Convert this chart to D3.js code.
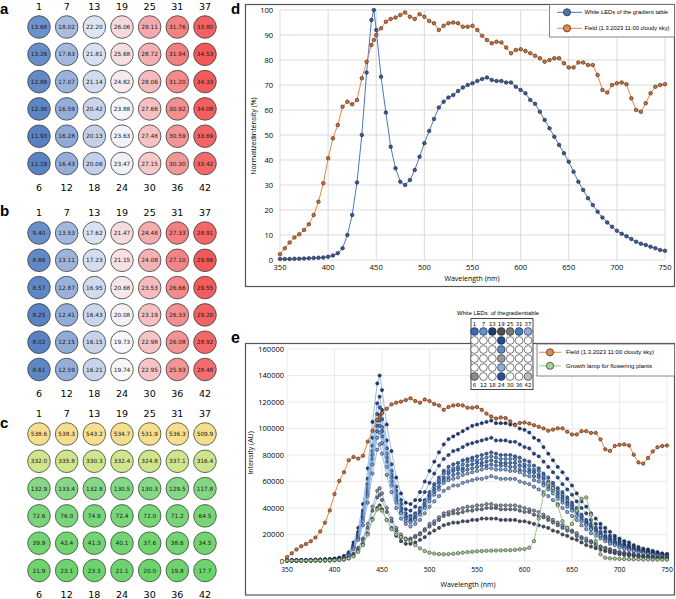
<!DOCTYPE html>
<html><head><meta charset="utf-8">
<script src="https://cdn.jsdelivr.net/npm/d3@7"></script>
<style>body{margin:0;background:#fff}svg{display:block}</style>
</head><body>
<script>
// ---------------- DATA ----------------
const colTop = [1, 7, 13, 19, 25, 31, 37];
const colBottom = [6, 12, 18, 24, 30, 36, 42];

const panelA = [
  [13.68, 18.02, 22.20, 26.06, 29.11, 31.76, 33.80],
  [13.26, 17.63, 21.81, 25.68, 28.72, 31.94, 34.53],
  [12.88, 17.07, 21.14, 24.82, 28.06, 31.20, 34.33],
  [12.30, 16.59, 20.42, 23.88, 27.66, 30.92, 34.08],
  [11.93, 16.28, 20.13, 23.63, 27.48, 30.59, 33.69],
  [12.19, 16.43, 20.06, 23.47, 27.15, 30.30, 33.42]
];
const panelB = [
  [9.40, 13.53, 17.62, 21.47, 24.48, 27.33, 28.91],
  [8.86, 13.11, 17.23, 21.15, 24.08, 27.10, 29.86],
  [8.57, 12.87, 16.95, 20.68, 23.53, 26.66, 29.55],
  [8.25, 12.41, 16.43, 20.08, 23.19, 26.33, 29.20],
  [8.02, 12.15, 16.15, 19.73, 22.98, 26.08, 28.92],
  [8.61, 12.59, 16.21, 19.74, 22.95, 25.93, 28.48]
];
const panelC = [
  [538.6, 538.3, 543.2, 534.7, 531.9, 536.3, 509.9],
  [332.0, 335.8, 330.3, 332.4, 324.8, 337.1, 316.4],
  [132.9, 133.4, 132.8, 130.5, 130.3, 129.5, 117.8],
  [72.6, 76.0, 74.9, 72.4, 72.0, 71.2, 64.5],
  [39.9, 42.4, 41.3, 40.1, 37.6, 38.6, 34.5],
  [21.9, 23.1, 23.3, 21.1, 20.0, 19.8, 17.7]
];

const wavelengths = [350,355,360,365,370,375,380,385,390,395,400,405,410,415,420,425,430,435,440,445,447.5,450,455,460,465,470,475,480,485,490,495,500,505,510,515,520,525,530,535,540,545,550,555,560,565,570,575,580,585,590,595,600,605,610,615,620,625,630,635,640,645,650,655,660,665,670,675,680,685,690,695,700,705,710,715,720,725,730,735,740,745,750];

// panel d (normalized, %)
const ledNormalized = [0.4,0.4,0.4,0.5,0.5,0.6,0.7,0.8,0.9,1.0, 1.3,1.8,2.7,4.7,10,18,31,50,75,96, 100,92,73.3,59,45.3,36.7,31.3,30,32,36, 41.3,46.7,51.6,56.4,61,63.3,65,66,67.6,69, 70,70.7,71.6,72.4,73,72,71.6,71.6,71,71, 69.3,68,66.7,64,62.5,59.3,56,52.7,49.3,46, 42.7,39.3,35.3,31.3,28,24.7,22,19.3,17,15, 13.3,11.7,10.5,9.5,8.4,7.3,6.5,6,5.3,4.7, 4,3.7];
const fieldNormalized = [2.3,4.7,7,9,10.3,12,14.3,18,23.3,30.7, 40.7,48.7,54,61.3,63.3,62.3,64,72.7,79.3,86, 88,90,92.7,95.3,96.4,97,98,99,97.3,96.4, 98.3,97.3,95.6,94.7,92,93.7,94.7,95,94.7,93.3, 93.3,93.7,92,89.7,88,86.7,87.3,87,85,82.7, 84,84.3,83.6,82.7,81.7,80.7,79.3,80,80.7,80.7, 78.7,77,77,79,79,78,78,74,68,67, 70,70.7,71,70.3,64.7,60,59.3,62.7,66.7,69.3, 70,70.3];

// panel e (intensity, thousands of AU)
const fieldIntensity = [2.9,5.8,8.7,11.2,12.8,14.9,17.7,22.3,28.9,38.1, 50.5,60.4,67,76,78.5,77.3,79.4,90.1,98.3,106.6, 109.1,111.6,114.9,118.2,119.5,120.3,121.5,122.8,120.7,119.5, 121.9,120.7,118.5,117.4,114.1,116.2,117.4,117.8,117.4,115.7, 115.7,116.2,114.1,111.2,109.1,107.5,108.3,107.9,105.4,102.5, 104.2,104.5,103.7,102.5,101.3,100.1,98.3,99.2,100.1,100.1, 97.6,95.5,95.5,98,98,96.7,96.7,91.8,84.3,83.1, 86.8,87.7,88,87.2,80.2,74.4,73.5,77.7,82.7,85.9, 86.8,87.2];
const growthLamp = [0.3,0.3,0.3,0.3,0.3,0.4,0.4,0.4,0.5,0.5, 0.6,0.8,1.2,2,3.5,7,12,20,31,39, 40.5,38,31,24,20,18,16.5,15,12,9.5, 7.5,6.3,5.6,5.2,5.1,5.2,5.5,5.9,6.3,6.7, 7,7.3,7.5,7.7,7.8,7.9,8,8.1,8.2,8.4, 8.8,9,10,15,32,50,58.5,55,42,30, 25,28,38,47,48,35,15,5,2.5,2, 1.8,1.6,1.5,1.4,1.3,1.2,1.1,1.1,1,1, 1,1];

const led13 = [0.6,0.6,0.6,0.7,0.7,0.8,1.0,1.1,1.3,1.4, 1.8,2.5,3.8,6.6,14,25,43,70,105,134, 140,129,103,83,63,51,44,43,46,52, 60,68,75,82,88,92,94,96,98,100, 102,103,104,105,106,104,104,104,103,103, 100,99,97,93,91,86,81,76,71,67, 62,57,51,45,41,36,32,28,25,22, 19,17,15,14,12,10.6,9.4,8.7,7.7,6.8, 5.8,5.4];
const led20 = [0.5,0.5,0.5,0.6,0.6,0.7,0.9,1.0,1.1,1.2, 1.6,2.2,3.3,5.8,12,22,38,62,93,119, 124,114,91,73,56,46,39,38,41,46, 52,59,66,72,77,80,83,84,86,88, 89,90,91,92,93,91,91,91,90,90, 88,86,85,81,79,75,71,67,63,58, 54,50,45,40,36,31,28,25,22,19, 17,15,13,12,10.7,9.3,8.3,7.6,6.7,6, 5.1,4.7];
const led1 = [0.5,0.5,0.5,0.6,0.6,0.7,0.8,0.9,1.0,1.2, 1.5,2.1,3.1,5.5,12,21,36,58,87,111, 116,107,85,68,53,43,36,34,36,40, 46,52,58,63,68,71,73,74,76,77, 78,79,80,81,82,81,80,80,80,79, 78,76,75,72,70,66,63,59,55,52, 48,44,40,35,31,28,25,22,19,17, 15,13,12,10.6,9.4,8.2,7.3,6.7,5.9,5.3, 4.5,4.1];
const led7 = [0.4,0.4,0.4,0.6,0.6,0.7,0.8,0.9,1.0,1.1, 1.4,2.0,3.0,5.2,11,20,34,55,83,106, 110,101,81,65,50,40,34,33,35,39, 45,50,56,61,66,68,70,71,73,75, 76,76,77,78,79,78,77,77,77,77, 75,73,72,69,68,64,60,57,53,50, 46,42,38,34,30,27,24,21,18,16, 14,13,11,10.3,9.1,7.9,7,6.5,5.7,5.1, 4.3,4];
const led31 = [0.4,0.4,0.4,0.5,0.5,0.6,0.7,0.8,1.0,1.1, 1.4,1.9,2.9,5.0,11,19,33,53,80,102, 106,98,78,63,48,39,33,31,33,37, 43,49,54,59,63,66,68,69,70,72, 73,74,74,75,76,75,74,74,74,74, 72,71,69,67,65,62,58,55,51,48, 44,41,37,33,29,26,23,20,18,16, 14,12,10.9,9.9,8.7,7.6,6.8,6.2,5.5,4.9, 4.2,3.8];
const led21 = [0.4,0.4,0.4,0.5,0.5,0.6,0.7,0.8,0.9,1.0, 1.3,1.8,2.8,4.8,10,18,32,51,77,98, 102,94,75,60,46,37,32,30,32,36, 41,47,52,56,61,63,65,66,68,69, 70,71,72,72,73,72,72,72,71,71, 69,68,67,64,63,59,56,53,49,46, 43,39,35,31,28,25,22,19,17,15, 13,12,10.5,9.5,8.4,7.3,6.5,6,5.3,4.7, 4,3.7];
const led23 = [0.4,0.4,0.4,0.5,0.5,0.6,0.7,0.8,0.9,1.0, 1.3,1.7,2.6,4.6,10,17,30,49,73,93, 97,89,71,57,44,36,30,29,31,35, 40,45,50,54,59,61,62,63,65,66, 67,68,69,70,70,69,69,69,68,68, 67,65,64,61,60,57,54,51,47,44, 41,38,34,30,27,24,21,19,16,14, 13,11,10.1,9.1,8.1,7,6.2,5.8,5.1,4.5, 3.8,3.6];
const led37 = [0.4,0.4,0.4,0.4,0.4,0.5,0.6,0.7,0.8,0.9, 1.1,1.6,2.4,4.1,8.8,16,27,44,66,84, 88,81,65,52,40,32,28,26,28,31, 36,41,45,49,53,55,57,57,59,60, 61,62,62,63,64,63,62,62,62,62, 60,59,58,56,54,52,49,46,43,40, 37,34,31,27,24,21,19,17,15,13, 12,10.2,9.1,8.3,7.3,6.4,5.7,5.2,4.6,4.1, 3.5,3.2];
const led22 = [0.2,0.2,0.2,0.3,0.3,0.3,0.4,0.4,0.5,0.6, 0.7,1.0,1.5,2.6,5.5,9.9,17,28,41,53, 55,51,40,32,25,20,17,17,19,21, 24,28,30,33,36,37,38,39,40,41, 41,42,42,43,43,42,42,42,42,42, 41,40,39,38,37,35,33,31,29,27, 25,23,21,18,17,15,13,11,10,8.9, 7.8,6.9,6.2,5.6,5,4.3,3.8,3.5,3.1,2.8, 2.4,2.2];
const led25 = [0.2,0.2,0.2,0.3,0.3,0.3,0.4,0.4,0.5,0.5, 0.7,0.9,1.4,2.4,5,9,16,25,38,48, 50,46,37,30,23,18,16,16,18,20, 23,26,28,31,34,35,36,36,37,38, 38,39,39,40,40,40,39,39,39,39, 38,37,37,35,34,33,31,29,27,25, 23,22,19,17,15,14,12,10.6,9.4,8.3, 7.3,6.4,5.8,5.2,4.6,4,3.6,3.3,2.9,2.6, 2.2,2];
const led19 = [0.2,0.2,0.2,0.2,0.2,0.3,0.3,0.3,0.4,0.4, 0.5,0.8,1.1,2.0,4.2,7.6,13,21,32,40, 42,39,31,25,19,15,13,13,14,16, 18,21,23,25,27,28,29,29,30,30, 31,31,32,32,32,32,31,31,31,31, 30,30,29,28,27,26,25,23,22,20, 19,17,16,14,12,10.9,9.7,8.5,7.5,6.6, 5.9,5.1,4.6,4.2,3.7,3.2,2.9,2.6,2.3,2.1, 1.8,1.6];

const insetLEDs = [1, 7, 13, 19, 25, 31, 37, 20, 21, 22, 23, 24, 6, 42];
const insetColors = ["#3c67b4","#5c92d2","#1f3b71","#4f4f4f","#7b7b7b","#3f7cc6","#8eaadd","#24498a","#5f88ca","#9b9b9b","#82aee2","#2b4ca0","#8a8a8a","#bebebe"];

const dTicksX = [350, 400, 450, 500, 550, 600, 650, 700, 750];
const dTicksY = [0, 10, 20, 30, 40, 50, 60, 70, 80, 90, 100];
const eTicksY = [0, 20, 40, 60, 80, 100, 120, 140, 160]; // thousands

const dLegend = ["White LEDs of the gradient table", "Field (1.3.2023 11:00 cloudy sky)"];
const eLegend = ["Field (1.3.2023 11:00 cloudy sky)", "Growth lamp for flowering plants"];

// ---------------- DRAW ----------------
const svg = d3.select("body").append("svg").attr("width", 676).attr("height", 599);
const MPL = "'DejaVu Sans', sans-serif";
const SANS = "'Open Sans', 'Liberation Sans', Arial, sans-serif";
const ARIAL = "'Liberation Sans', Arial, sans-serif";

function ledGrid(rows, top, color, fmt, letter, letterY, stroke) {
  const g = svg.append("g");
  const x = d3.scalePoint().domain(d3.range(7)).range([39, 205]);
  const y = d3.scalePoint().domain(d3.range(6)).range([top, top + 136.5]);
  g.append("text").text(letter).attr("x", 0).attr("y", letterY)
    .attr("font-family", ARIAL).attr("font-weight", "bold").attr("font-size", 15);
  g.selectAll("text.top").data(colTop).join("text").attr("class", "top")
    .attr("x", (d, i) => x(i)).attr("y", top - 17.5).attr("text-anchor", "middle")
    .attr("font-family", MPL).attr("font-size", 9.5).text(d => d);
  g.selectAll("text.bot").data(colBottom).join("text").attr("class", "bot")
    .attr("x", (d, i) => x(i)).attr("y", top + 136.5 + 27).attr("text-anchor", "middle")
    .attr("font-family", MPL).attr("font-size", 9.5).text(d => d);
  const cells = rows.flatMap((r, ri) => r.map((v, ci) => ({ v, ri, ci })));
  g.selectAll("circle").data(cells).join("circle")
    .attr("cx", d => x(d.ci)).attr("cy", d => y(d.ri)).attr("r", 11.3)
    .attr("fill", d => color(d.v)).attr("stroke", stroke).attr("stroke-width", 0.8);
  g.selectAll("text.val").data(cells).join("text").attr("class", "val")
    .attr("x", d => x(d.ci)).attr("y", d => y(d.ri) + 2.1).attr("text-anchor", "middle")
    .attr("font-family", MPL).attr("font-size", 5.8).attr("fill", "#1a1a1a").text(d => fmt(d.v));
}

function divScale(rows) {
  const all = rows.flat();
  return d3.scaleLinear().domain([d3.min(all), d3.mean(all), d3.max(all)])
    .range(["#5681c3", "#f7f7fa", "#f15858"]);
}
ledGrid(panelA, 27, divScale(panelA), d3.format(".2f"), "a", 13.5, "#3c3c3c");
ledGrid(panelB, 233, divScale(panelB), d3.format(".2f"), "b", 216, "#3c3c3c");
const cScale = d3.scaleLinear().domain([17, 135, 330, 545])
  .range(["#6dd36d", "#86d886", "#d0e58d", "#f8de8f"]);
ledGrid(panelC, 434, cScale, d3.format(".1f"), "c", 428, "#3b4b3b");

// ---- panel d ----
const xd = d3.scaleLinear().domain([350, 750]).range([280, 665]);
const yd = d3.scaleLinear().domain([0, 100]).range([260, 10]);
const gd = svg.append("g");
gd.selectAll("line.vx").data(dTicksX).join("line").attr("class", "vx")
  .attr("x1", d => xd(d)).attr("x2", d => xd(d)).attr("y1", yd(100)).attr("y2", yd(0))
  .attr("stroke", "#d2d2d2").attr("stroke-width", 0.8);
gd.selectAll("line.hy").data(dTicksY).join("line").attr("class", "hy")
  .attr("x1", xd(350)).attr("x2", xd(750)).attr("y1", d => yd(d)).attr("y2", d => yd(d))
  .attr("stroke", "#d2d2d2").attr("stroke-width", 0.8);
gd.selectAll("text.ty").data(dTicksY).join("text").attr("class", "ty")
  .attr("x", 273).attr("y", d => yd(d) + 2.6).attr("text-anchor", "end")
  .attr("font-family", SANS).attr("font-size", 7.5).text(d => d);
gd.selectAll("text.tx").data(dTicksX).join("text").attr("class", "tx")
  .attr("x", d => xd(d)).attr("y", 270).attr("text-anchor", "middle")
  .attr("font-family", SANS).attr("font-size", 7.5).text(d => d);
gd.append("text").text("Wavelength (nm)").attr("x", 472).attr("y", 281)
  .attr("text-anchor", "middle").attr("font-family", SANS).attr("font-size", 7);
gd.append("text").text("Normalizedintensity (%)").attr("transform", "translate(256,136) rotate(-90)")
  .attr("text-anchor", "middle").attr("font-family", SANS).attr("font-size", 7);

function series(g, x, y, values, lineColor, fill, stroke, r, lw) {
  const line = d3.line().x((d, i) => x(wavelengths[i])).y(d => y(d));
  g.append("path").attr("d", line(values)).attr("fill", "none")
    .attr("stroke", lineColor).attr("stroke-width", lw);
  g.append("g").selectAll("circle").data(values).join("circle")
    .attr("cx", (d, i) => x(wavelengths[i])).attr("cy", d => y(d)).attr("r", r)
    .attr("fill", fill).attr("stroke", stroke).attr("stroke-width", 0.6);
}
series(gd, xd, yd, ledNormalized, "#4a78c0", "#3a5a95", "#141c30", 1.8, 1);
series(gd, xd, yd, fieldNormalized, "#e8864a", "#c9733d", "#3a1a0a", 1.8, 1);

gd.append("rect").attr("x", 245.5).attr("y", 4.5).attr("width", 429).attr("height", 282)
  .attr("fill", "none").attr("stroke", "#555").attr("stroke-width", 1.2);
gd.append("text").text("d").attr("x", 231).attr("y", 14).attr("font-family", ARIAL)
  .attr("font-weight", "bold").attr("font-size", 15);

// legend d
const ld = gd.append("g");
ld.append("rect").attr("x", 549.5).attr("y", 4.5).attr("width", 125).attr("height", 32.5)
  .attr("fill", "#fff").attr("stroke", "#666").attr("stroke-width", 0.8);
const dLegStyle = [["#4a78c0", "#4f73b8"], ["#e8864a", "#e8874a"]];
dLegend.forEach((t, i) => {
  const yy = 12.3 + i * 16;
  ld.append("line").attr("x1", 557).attr("x2", 582).attr("y1", yy).attr("y2", yy)
    .attr("stroke", dLegStyle[i][0]).attr("stroke-width", 1);
  ld.append("circle").attr("cx", 567).attr("cy", yy).attr("r", 3.6)
    .attr("fill", dLegStyle[i][1]).attr("stroke", "#2a2a2a").attr("stroke-width", 0.7);
  ld.append("text").text(t).attr("x", 584.5).attr("y", yy + 2.1)
    .attr("font-family", ARIAL).attr("font-size", 5.8);
});

// ---- panel e ----
const xe = d3.scaleLinear().domain([350, 750]).range([287, 667]);
const ye = d3.scaleLinear().domain([0, 160]).range([561, 349]);
const ge = svg.append("g");
ge.selectAll("line.vx").data(dTicksX).join("line").attr("class", "vx")
  .attr("x1", d => xe(d)).attr("x2", d => xe(d)).attr("y1", ye(160)).attr("y2", ye(0))
  .attr("stroke", "#e6e6e6").attr("stroke-width", 0.8);
ge.selectAll("line.hy").data(eTicksY).join("line").attr("class", "hy")
  .attr("x1", xe(350)).attr("x2", xe(750)).attr("y1", d => ye(d)).attr("y2", d => ye(d))
  .attr("stroke", "#e6e6e6").attr("stroke-width", 0.8);
ge.selectAll("text.ty").data(eTicksY).join("text").attr("class", "ty")
  .attr("x", 284).attr("y", d => ye(d) + 2.6).attr("text-anchor", "end")
  .attr("font-family", SANS).attr("font-size", 7.5).text(d => d3.format("d")(d * 1000));
ge.selectAll("text.tx").data(dTicksX).join("text").attr("class", "tx")
  .attr("x", d => xe(d)).attr("y", 571.5).attr("text-anchor", "middle")
  .attr("font-family", SANS).attr("font-size", 6.8).text(d => d);
ge.append("text").text("Wavelength (nm)").attr("x", 468).attr("y", 586.5)
  .attr("text-anchor", "middle").attr("font-family", SANS).attr("font-size", 7);
ge.append("text").text("Intensity (AU)").attr("transform", "translate(253,453) rotate(-90)")
  .attr("text-anchor", "middle").attr("font-family", SANS).attr("font-size", 7);

const ledColor = id => insetColors[insetLEDs.indexOf(id)];
const ledSeries = [
  { id: 13, values: led13 }, { id: 20, values: led20 }, { id: 1, values: led1 },
  { id: 7, values: led7 }, { id: 31, values: led31 }, { id: 21, values: led21 },
  { id: 23, values: led23 }, { id: 37, values: led37 }, { id: 22, values: led22 },
  { id: 25, values: led25 }, { id: 19, values: led19 }
];
ledSeries.forEach(s => series(ge, xe, ye, s.values, "#82aade", ledColor(s.id), "#17223a", 1.6, 0.8));
series(ge, xe, ye, fieldIntensity, "#e8864a", "#c9733d", "#3a1a0a", 1.7, 1);
series(ge, xe, ye, growthLamp, "#98c98a", "#a9c892", "#333d33", 1.7, 1);

ge.append("rect").attr("x", 245.5).attr("y", 343.5).attr("width", 429).attr("height", 251.5)
  .attr("fill", "none").attr("stroke", "#555").attr("stroke-width", 1.2);
ge.append("text").text("e").attr("x", 231).attr("y", 343).attr("font-family", ARIAL)
  .attr("font-weight", "bold").attr("font-size", 16);

// legend e
const le = ge.append("g");
le.append("rect").attr("x", 537).attr("y", 344).attr("width", 137.5).attr("height", 32)
  .attr("fill", "#fff").attr("stroke", "#666").attr("stroke-width", 0.8);
const eLegStyle = [["#e8864a", "#e8874a"], ["#98c98a", "#a9d296"]];
eLegend.forEach((t, i) => {
  const yy = 352.3 + i * 13.5;
  le.append("line").attr("x1", 539).attr("x2", 561).attr("y1", yy).attr("y2", yy)
    .attr("stroke", eLegStyle[i][0]).attr("stroke-width", 1);
  le.append("circle").attr("cx", 550).attr("cy", yy).attr("r", 3.6)
    .attr("fill", eLegStyle[i][1]).attr("stroke", "#2a2a2a").attr("stroke-width", 0.7);
  le.append("text").text(t).attr("x", 566).attr("y", yy + 2.1)
    .attr("font-family", ARIAL).attr("font-size", 6);
});

// inset LED map
const gi = ge.append("g");
const xi = d3.scalePoint().domain(d3.range(7)).range([474.5, 528]);
const yi = d3.scalePoint().domain(d3.range(6)).range([331.5, 376.5]);
gi.append("text").text("White LEDs  of thegradienttable").attr("x", 498).attr("y", 314.5)
  .attr("text-anchor", "middle").attr("font-family", ARIAL).attr("font-size", 5.8)
  .style("white-space", "pre");
gi.append("rect").attr("x", 471).attr("y", 318.5).attr("width", 62).attr("height", 71)
  .attr("fill", "#fff").attr("stroke", "#333").attr("stroke-width", 0.9);
gi.selectAll("text.it").data(colTop).join("text").attr("class", "it")
  .attr("x", (d, i) => xi(i)).attr("y", 325.5).attr("text-anchor", "middle")
  .attr("font-family", MPL).attr("font-size", 5.4).text(d => d);
gi.selectAll("text.ib").data(colBottom).join("text").attr("class", "ib")
  .attr("x", (d, i) => xi(i)).attr("y", 386.5).attr("text-anchor", "middle")
  .attr("font-family", MPL).attr("font-size", 5.4).text(d => d);
const insetCells = d3.range(42).map(k => ({ n: k + 1, ci: Math.floor(k / 6), ri: k % 6 }));
gi.selectAll("circle").data(insetCells).join("circle")
  .attr("cx", d => xi(d.ci)).attr("cy", d => yi(d.ri)).attr("r", 3.9)
  .attr("fill", d => insetLEDs.includes(d.n) ? ledColor(d.n) : "#fff")
  .attr("stroke", "#222").attr("stroke-width", 0.6);
</script>
</body></html>
